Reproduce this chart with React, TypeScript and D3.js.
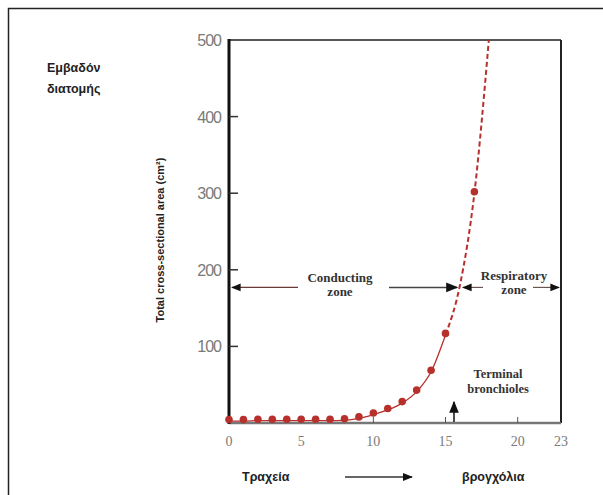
import React from "react";
import * as d3 from "d3";

// generation number and total cross-sectional area (cm²)
const generations = [0, 1, 2, 3, 4, 5, 6, 7, 8, 9, 10, 11, 12, 13, 14, 15, 16, 17, 18];
const areas = [2.5, 2.5, 3, 3, 3, 3, 3, 3, 3.5, 6, 11, 17, 26, 41, 67, 115, 180, 300, 500];
// which generations carry a dot
const dotted = [0, 1, 2, 3, 4, 5, 6, 7, 8, 9, 10, 11, 12, 13, 14, 15, 17];
const xTicks = [0, 5, 10, 15, 20, 23];
const yTicks = [100, 200, 300, 400, 500];

export default function App() {
  const W = 603;
  const H = 495;
  const x = d3.scaleLinear().domain([0, 23]).range([229, 561]);
  const y = d3.scaleLinear().domain([0, 500]).range([423, 40]);

  const pts = generations.map((g, i) => [g, areas[i]] as [number, number]);
  const line = d3
    .line<[number, number]>()
    .x((d) => x(d[0]))
    .y((d) => y(d[1]))
    .curve(d3.curveMonotoneX);

  const solid = pts.filter((d) => d[0] <= 15);
  const dashed = pts.filter((d) => d[0] >= 15);

  const red = "#b8302c";
  const tickGray = "#7a7a7a";
  const serif = "'Liberation Serif', 'DejaVu Serif', serif";
  const sans = "'Liberation Sans', 'DejaVu Sans', sans-serif";

  const arrowY = y(177);

  return (
    <svg width={W} height={H} style={{ position: "absolute", left: 0, top: 0 }}>
      <defs>
        <marker id="ah" viewBox="0 0 10 10" refX="9" refY="5" markerWidth="8" markerHeight="8" orient="auto-start-reverse">
          <path d="M0,1 L10,5 L0,9 Z" fill="#111" />
        </marker>
        <clipPath id="plot">
          <rect x={x(0)} y={y(500)} width={x(23) - x(0)} height={y(0) - y(500)} />
        </clipPath>
      </defs>
      <rect width={W} height={H} fill="#fff" />
      {/* outer frame */}
      <path d={`M8.5,${H} V8.5 H${W}`} fill="none" stroke="#222" strokeWidth={1.5} />

      {/* title-ish label */}
      <text x={47} y={72} fontFamily={sans} fontWeight="bold" fontSize={12.5} fill="#222">Εμβαδόν</text>
      <text x={47} y={93} fontFamily={sans} fontWeight="bold" fontSize={12.5} fill="#222">διατομής</text>

      {/* y axis label */}
      <text
        transform={`translate(164,240) rotate(-90)`}
        textAnchor="middle"
        fontFamily={sans}
        fontWeight="bold"
        fontSize={11}
        fill="#222"
      >
        Total cross-sectional area (cm²)
      </text>

      {/* box */}
      <line x1={x(0)} x2={x(23)} y1={y(500)} y2={y(500)} stroke="#555" strokeWidth={2} />
      <line x1={x(23)} x2={x(23)} y1={y(500)} y2={y(0)} stroke="#222" strokeWidth={2} />
      <line x1={x(0)} x2={x(23)} y1={y(0)} y2={y(0)} stroke="#777" strokeWidth={2.5} />
      <line x1={x(0)} x2={x(0)} y1={y(500) - 1} y2={y(0) + 1} stroke="#111" strokeWidth={3} />

      {/* y ticks */}
      {yTicks.map((t) => (
        <g key={t}>
          {t < 500 && <line x1={x(0)} x2={x(0) + 9} y1={y(t)} y2={y(t)} stroke="#333" strokeWidth={1.5} />}
          <text x={221} y={y(t) + 6} textAnchor="end" fontFamily={sans} fontSize={16} letterSpacing={-1} fill={tickGray}>
            {t}
          </text>
        </g>
      ))}

      {/* x ticks */}
      {xTicks.map((t) => (
        <g key={t}>
          {t > 0 && t < 23 && <line x1={x(t)} x2={x(t)} y1={y(0)} y2={y(0) - 6} stroke="#555" strokeWidth={1} />}
          <text x={x(t)} y={446} textAnchor="middle" fontFamily={serif} fontSize={14} fill={tickGray}>
            {t}
          </text>
        </g>
      ))}

      {/* curve */}
      <g clipPath="url(#plot)">
        <path d={line(solid) ?? ""} fill="none" stroke={red} strokeWidth={1.3} />
        <path d={line(dashed) ?? ""} fill="none" stroke={red} strokeWidth={2} strokeDasharray="5,3" />
      </g>
      {pts
        .filter((d) => dotted.includes(d[0]))
        .map((d) => (
          <circle key={d[0]} cx={x(d[0])} cy={y(d[1]) - 1.5} r={3.8} fill={red} />
        ))}

      {/* zone arrows */}
      <line x1={x(0) + 3} x2={298} y1={arrowY} y2={arrowY} stroke="#6b3a36" strokeWidth={1.2} markerStart="url(#ah)" />
      <line x1={389} x2={x(16) - 3} y1={arrowY} y2={arrowY} stroke="#444" strokeWidth={1.5} markerEnd="url(#ah)" />
      <text x={340} y={282} textAnchor="middle" fontFamily={serif} fontWeight="bold" fontSize={13} fill="#333">Conducting</text>
      <text x={340} y={296} textAnchor="middle" fontFamily={serif} fontWeight="bold" fontSize={13} fill="#333">zone</text>

      <line x1={x(16) + 3} x2={483} y1={arrowY} y2={arrowY} stroke="#6b5550" strokeWidth={1.2} markerStart="url(#ah)" />
      <line x1={533} x2={x(23) - 2} y1={arrowY} y2={arrowY} stroke="#6b5550" strokeWidth={1.2} markerEnd="url(#ah)" />
      <text x={514} y={280} textAnchor="middle" fontFamily={serif} fontWeight="bold" fontSize={13} fill="#333">Respiratory</text>
      <text x={514} y={294} textAnchor="middle" fontFamily={serif} fontWeight="bold" fontSize={13} fill="#333">zone</text>

      {/* terminal bronchioles */}
      <text x={498} y={378} textAnchor="middle" fontFamily={serif} fontWeight="bold" fontSize={12.5} fill="#333">Terminal</text>
      <text x={498} y={393} textAnchor="middle" fontFamily={serif} fontWeight="bold" fontSize={12.5} fill="#333">bronchioles</text>
      <line x1={454} x2={454} y1={y(0) - 1} y2={402} stroke="#111" strokeWidth={1.5} markerEnd="url(#ah)" />

      {/* bottom labels */}
      <text x={242} y={481} fontFamily={sans} fontWeight="bold" fontSize={12.5} fill="#222">Τραχεία</text>
      <line x1={345} x2={412} y1={477} y2={477} stroke="#333" strokeWidth={1.3} markerEnd="url(#ah)" />
      <text x={462} y={481} fontFamily={sans} fontWeight="bold" fontSize={12.5} fill="#222">βρογχόλια</text>
    </svg>
  );
}
